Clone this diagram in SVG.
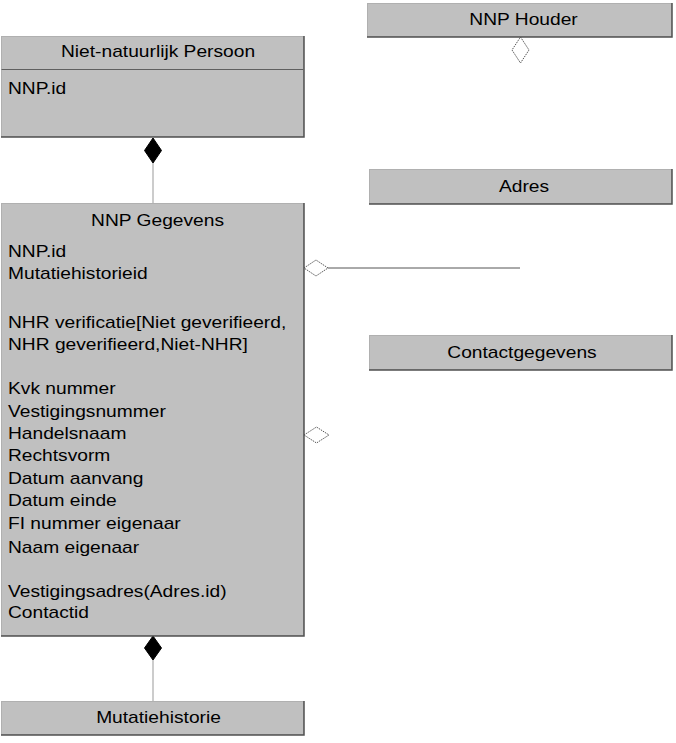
<svg xmlns="http://www.w3.org/2000/svg" width="676" height="743" viewBox="0 0 676 743">
<style>
.box{fill:#c0c0c0;stroke:#b0b0b0;stroke-width:1}
.shade{fill:none;stroke:#505050;stroke-width:1.5}
.sep{stroke:#606060;stroke-width:1}
text{font-family:"Liberation Sans",Arial,sans-serif;font-size:16px;fill:#000}
.t{text-anchor:middle}
.hd{fill:#fff;stroke:#555;stroke-width:1;stroke-dasharray:1.5,1}
.fd{fill:#000;stroke:#000;stroke-width:1}
.ln{stroke:#999;stroke-width:1;fill:none}
.lnd{stroke:#555;stroke-width:1;fill:none}
</style>
<rect width="676" height="743" fill="#fff"/>
<g id="connectors">
<line class="ln" x1="153" y1="163" x2="153" y2="203"/>
<polygon class="fd" points="153,138 161.5,150.5 153,163 144.5,150.5"/>
<line class="ln" x1="153" y1="660" x2="153" y2="701"/>
<polygon class="fd" points="153,636 161.5,648 153,660 144.5,648"/>
<line class="lnd" x1="328" y1="268" x2="520" y2="268"/>
<polygon class="hd" points="304,268 316,260 328,268 316,276"/>
<polygon class="hd" points="304,435 316.5,427 329,435 316.5,443"/>
<polygon class="hd" points="520.5,37 529,50 520.5,63 512,50"/>
</g>
<g id="nnp">
<rect class="box" x="1.5" y="36.5" width="302" height="100"/>
<polyline class="shade" points="304,36 304,137 1,137"/>
<line class="sep" x1="1.5" y1="69.5" x2="303.5" y2="69.5"/>
<text class="t" transform="scale(1.2 1)" x="131.7" y="57">Niet-natuurlijk Persoon</text>
<text transform="scale(1.2 1)" x="6.67" y="94">NNP.id</text>
</g>
<g id="nnp-houder">
<rect class="box" x="367.5" y="3.5" width="304" height="33"/>
<polyline class="shade" points="672,3 672,37 367,37"/>
<text class="t" transform="scale(1.2 1)" x="436.3" y="25">NNP Houder</text>
</g>
<g id="adres">
<rect class="box" x="369.5" y="169.5" width="302" height="34"/>
<polyline class="shade" points="672,169 672,204 369,204"/>
<text class="t" transform="scale(1.2 1)" x="436.7" y="192">Adres</text>
</g>
<g id="contactgegevens">
<rect class="box" x="369.5" y="335.5" width="302" height="34"/>
<polyline class="shade" points="672,335 672,370 369,370"/>
<text class="t" transform="scale(1.2 1)" x="435" y="358">Contactgegevens</text>
</g>
<g id="nnp-gegevens">
<rect class="box" x="1.5" y="203.5" width="302" height="432"/>
<polyline class="shade" points="304,203 304,636 1,636"/>
<text class="t" transform="scale(1.2 1)" x="131.3" y="226">NNP Gegevens</text>
<g transform="scale(1.2 1)">
<text x="6.67" y="257">NNP.id</text>
<text x="6.67" y="279">Mutatiehistorieid</text>
<text x="6.67" y="328">NHR verificatie[Niet geverifieerd,</text>
<text x="6.67" y="350">NHR geverifieerd,Niet-NHR]</text>
<text x="6.67" y="394">Kvk nummer</text>
<text x="6.67" y="417">Vestigingsnummer</text>
<text x="6.67" y="439">Handelsnaam</text>
<text x="6.67" y="461">Rechtsvorm</text>
<text x="6.67" y="484">Datum aanvang</text>
<text x="6.67" y="506">Datum einde</text>
<text x="6.67" y="529">FI nummer eigenaar</text>
<text x="6.67" y="553">Naam eigenaar</text>
<text x="6.67" y="597">Vestigingsadres(Adres.id)</text>
<text x="6.67" y="618">Contactid</text>
</g>
</g>
<g id="mutatiehistorie">
<rect class="box" x="1.5" y="701.5" width="302" height="33"/>
<polyline class="shade" points="304,701 304,735 1,735"/>
<text class="t" transform="scale(1.2 1)" x="132.1" y="723">Mutatiehistorie</text>
</g>
</svg>
